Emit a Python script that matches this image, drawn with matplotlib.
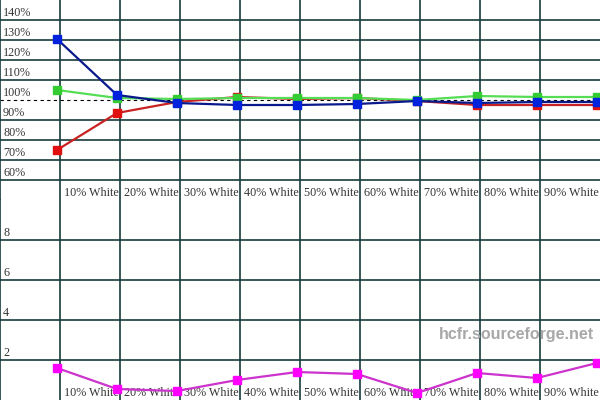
import matplotlib
matplotlib.use("Agg")
import matplotlib.pyplot as plt
import matplotlib.transforms as mtransforms

# grey levels measured
levels = ["10% White", "20% White", "30% White", "40% White", "50% White",
          "60% White", "70% White", "80% White", "90% White", "100% White"]

red_pct = [75, 93.5, 99, 101.5, 100.5, 101, 99.5, 97.5, 97.5, 97.5]
green_pct = [105, 101, 100.5, 101, 101, 101, 100, 102, 101.5, 101.5]
blue_pct = [130.5, 102.5, 98.5, 97.5, 97.5, 98, 99.5, 98.5, 99, 99]

delta_e = [1.6, 0.55, 0.45, 1.0, 1.4, 1.3, 0.35, 1.35, 1.1, 1.85]

pct_ticks = [60, 70, 80, 90, 110, 120, 130, 140]
pct_labels = [60, 70, 80, 90, 100, 110, 120, 130, 140]
de_ticks = [2, 4, 6, 8]

GRID = "#173b3b"
TXT = "#333333"
FONT = "Liberation Serif"

fig = plt.figure(figsize=(6, 4), dpi=100)
ax1 = fig.add_axes([0, 0.5, 1, 0.5])
ax2 = fig.add_axes([0, 0, 1, 0.5])

x = list(range(len(levels)))


def base_axes(ax, ylo, yhi, hlines):
    ax.set_xlim(-0.95, 9.05)
    ax.set_ylim(ylo, yhi)
    ax.set_xticks([])
    ax.set_yticks([])
    for s in ("top", "right", "bottom"):
        ax.spines[s].set_visible(False)
    ax.spines["left"].set_color(GRID)
    ax.spines["left"].set_linewidth(1.2)
    for i in range(len(levels) - 1):
        ax.axvline(i + 0.05, color=GRID, lw=1.2, zorder=1)
    for h in hlines:
        ax.axhline(h, color=GRID, lw=1.2, zorder=1)
    # category labels at bottom of each panel (the last one falls off the edge)
    tr = mtransforms.blended_transform_factory(ax.transData, ax.transAxes)
    for i, lab in enumerate(levels[:-1]):
        ax.text(i + 0.12, 0.005, lab, transform=tr, ha="left", va="bottom",
                fontsize=8.7, family=FONT, color=TXT, zorder=2)


# top panel: RGB levels
base_axes(ax1, 50, 150, pct_ticks)
ax1.axhline(100, color="black", lw=0.8, ls=(0, (3, 3)), zorder=2)
for v in pct_labels:
    ax1.text(-0.9, v + 0.6, f"{v}%", ha="left", va="bottom",
             fontsize=8.7, family=FONT, color=TXT)

ax1.plot(x, red_pct, color="#c82222", lw=1.6, marker="s", ms=6,
         mfc="#e01010", mec="#e01010", zorder=3)
ax1.plot(x, green_pct, color="#55dd55", lw=1.6, marker="s", ms=6,
         mfc="#33cc33", mec="#33cc33", zorder=4)
ax1.plot(x, blue_pct, color="#0a1a8c", lw=1.6, marker="s", ms=6,
         mfc="#0022dd", mec="#0022dd", zorder=5)

# bottom panel: delta E
base_axes(ax2, 0, 10, de_ticks)
for v in de_ticks:
    ax2.text(-0.9, v + 0.06, str(v), ha="left", va="bottom",
             fontsize=8.7, family=FONT, color=TXT)
ax2.plot(x, delta_e, color="#cc33cc", lw=1.6, marker="s", ms=6,
         mfc="#ff00ff", mec="#ff00ff", zorder=5)

ax2.text(7.65, 3.25, "hcfr.sourceforge.net", ha="center", va="center",
         fontsize=11.5, fontweight="bold", family="Liberation Sans",
         color="#a8a8a8", zorder=2)

fig.savefig("out.png", dpi=100)
